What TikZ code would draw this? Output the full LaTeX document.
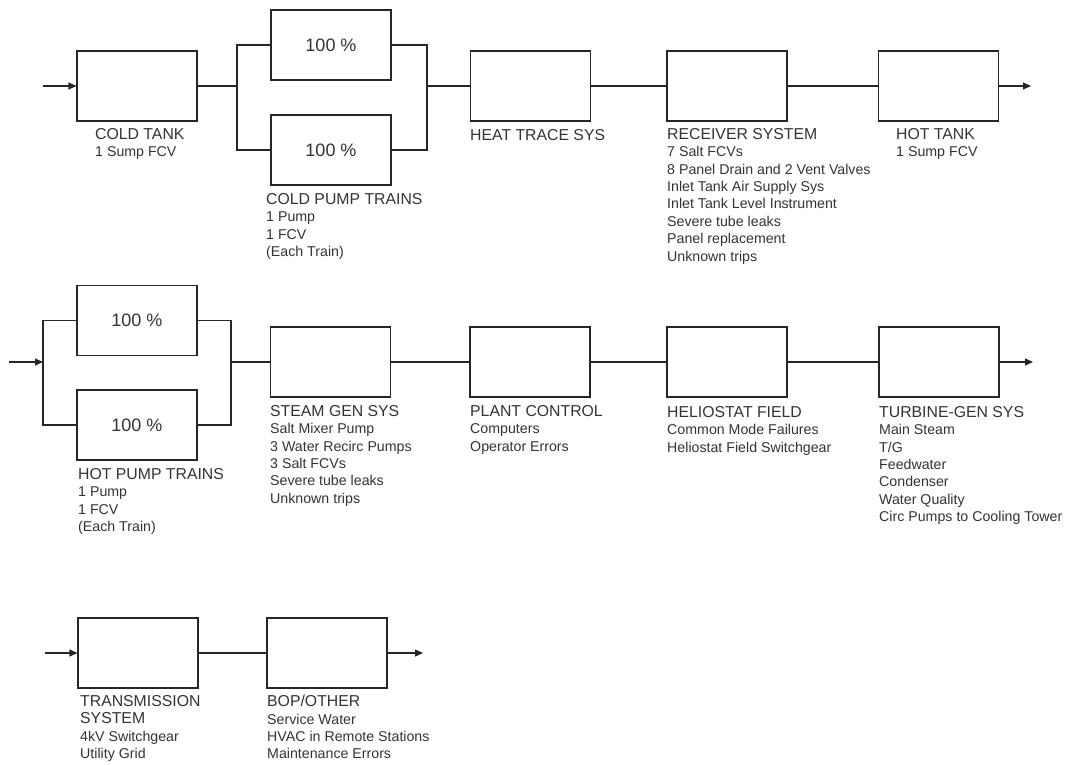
\documentclass[tikz,border=0pt]{standalone}
\usepackage{fontspec}
\setmainfont{Liberation Sans}
\usetikzlibrary{arrows.meta}
\newcommand{\headfont}{\fontsize{15.8}{17.4}\selectfont}
\newcommand{\subfont}{\fontsize{14.2}{17.4}\selectfont}
\tikzset{
  block/.style={draw=black!85, line width=1.1pt, minimum width=120pt, minimum height=70pt, inner sep=0pt, text=black!80},
  wire/.style={draw=black!85, line width=1.1pt},
  flow/.style={wire, -{Triangle[length=8pt,width=7pt]}},
  caption/.style={anchor=north west, align=left, inner sep=0pt, font=\subfont, text=black!80,
    execute at begin node={\rule{0pt}{12pt}}, yshift=12pt},
  share/.style={font=\fontsize{18}{20}\selectfont}
}
\begin{document}
\begin{tikzpicture}[x=1pt,y=-1pt]
        \useasboundingbox (0,0) rectangle (1071,764);

        % Row 1: cold side
        \node[block] (cold) at (137,86) {};
        \node[block, share] (cpumpA) at (331,45) {100 \%};
        \node[block, share] (cpumpB) at (331,150) {100 \%};
        \node[block] (heat) at (530.5,86) {};
        \node[block] (recv) at (727,86) {};
        \node[block] (hot) at (938.5,86) {};
        \coordinate (in1) at (43,86);
        \coordinate (out1) at (1031,86);
        \coordinate (split1) at (237,86);
        \coordinate (join1) at (427,86);

        \draw[flow] (in1) -- (cold.west);
        \draw[wire] (cold.east) -- (split1);
        \draw[wire] (cpumpA.west) -| (split1) |- (cpumpB.west);
        \draw[wire] (cpumpA.east) -| (join1) |- (cpumpB.east);
        \draw[wire] (join1) -- (heat.west);
        \draw[wire] (heat.east) -- (recv.west);
        \draw[wire] (recv.east) -- (hot.west);
        \draw[flow] (hot.east) -- (out1);

        \node[caption] (coldtxt) at (95,140) {{\headfont COLD TANK}\\1 Sump FCV};
        \node[caption] (cpumptxt) at (266,205) {{\headfont COLD PUMP TRAINS}\\1 Pump\\1 FCV\\(Each Train)};
        \node[caption] (heattxt) at (470,140) {{\headfont HEAT TRACE SYS}};
        \node[caption] (recvtxt) at (667,140) {{\headfont RECEIVER SYSTEM}\\7 Salt FCVs\\8 Panel Drain and 2 Vent Valves\\Inlet Tank Air Supply Sys\\Inlet Tank Level Instrument\\Severe tube leaks\\Panel replacement\\Unknown trips};
        \node[caption] (hottxt) at (896,140) {{\headfont HOT TANK}\\1 Sump FCV};

        % Row 2: hot side
        \node[block, share] (hpumpA) at (137,320.5) {100 \%};
        \node[block, share] (hpumpB) at (137,425) {100 \%};
        \node[block] (steam) at (330.5,362) {};
        \node[block] (plant) at (530,362) {};
        \node[block] (helio) at (727,362) {};
        \node[block] (turb) at (939,362) {};
        \coordinate (in2) at (9,362);
        \coordinate (out2) at (1033,362);
        \coordinate (split2) at (43,362);
        \coordinate (join2) at (231,362);

        \draw[flow] (in2) -- (split2);
        \draw[wire] (hpumpA.west) -| (split2) |- (hpumpB.west);
        \draw[wire] (hpumpA.east) -| (join2) |- (hpumpB.east);
        \draw[wire] (join2) -- (steam.west);
        \draw[wire] (steam.east) -- (plant.west);
        \draw[wire] (plant.east) -- (helio.west);
        \draw[wire] (helio.east) -- (turb.west);
        \draw[flow] (turb.east) -- (out2);

        \node[caption] (hpumptxt) at (78,480) {{\headfont HOT PUMP TRAINS}\\1 Pump\\1 FCV\\(Each Train)};
        \node[caption] (steamtxt) at (270,417) {{\headfont STEAM GEN SYS}\\Salt Mixer Pump\\3 Water Recirc Pumps\\3 Salt FCVs\\Severe tube leaks\\Unknown trips};
        \node[caption] (planttxt) at (470,417) {{\headfont PLANT CONTROL}\\Computers\\Operator Errors};
        \node[caption] (heliotxt) at (667,418) {{\headfont HELIOSTAT FIELD}\\Common Mode Failures\\Heliostat Field Switchgear};
        \node[caption] (turbtxt) at (879,418) {{\headfont TURBINE-GEN SYS}\\Main Steam\\T/G\\Feedwater\\Condenser\\Water Quality\\Circ Pumps to Cooling Tower};

        % Row 3: grid side
        \node[block] (trans) at (138,653) {};
        \node[block] (bop) at (327,653) {};
        \coordinate (in3) at (45,653);
        \coordinate (out3) at (423,653);

        \draw[flow] (in3) -- (trans.west);
        \draw[wire] (trans.east) -- (bop.west);
        \draw[flow] (bop.east) -- (out3);

        \node[caption] (transtxt) at (80,707) {{\headfont TRANSMISSION}\\{\headfont SYSTEM}\\4kV Switchgear\\Utility Grid};
        \node[caption] (boptxt) at (267,707) {{\headfont BOP/OTHER}\\Service Water\\HVAC in Remote Stations\\Maintenance Errors};
    \end{tikzpicture}
\end{document}
